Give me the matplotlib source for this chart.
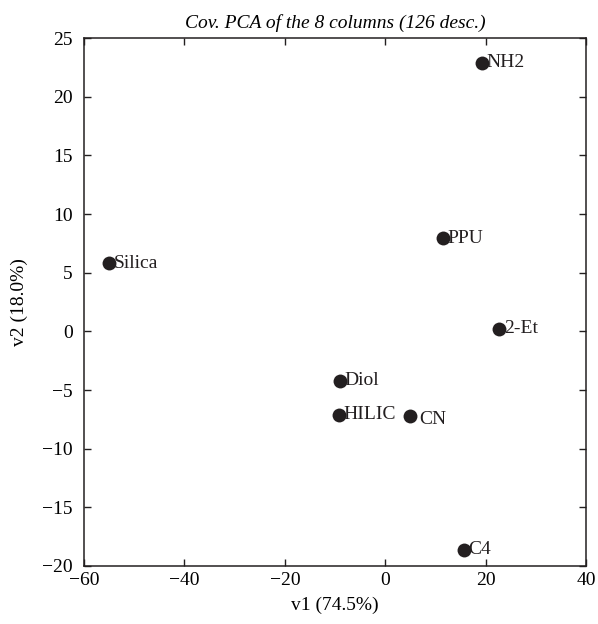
import matplotlib
matplotlib.use("Agg")
import matplotlib.pyplot as plt

names = ["NH2", "PPU", "Silica", "2-Et", "Diol", "HILIC", "CN", "C4"]
v1 = [19.2, 11.5, -55.0, 22.7, -9.0, -9.3, 4.9, 15.6]
v2 = [22.9, 7.95, 5.8, 0.2, -4.2, -7.1, -7.2, -18.6]

plt.rcParams["font.family"] = ["Liberation Serif", "DejaVu Serif"]
plt.rcParams["font.size"] = 14

fig = plt.figure(figsize=(5.98, 6.24), dpi=100)
ax = fig.add_axes([0.1405, 0.093, 0.8395, 0.846])

ax.scatter(v1, v2, s=100, color="#231f20", zorder=3, linewidths=0)
for n, x, y in zip(names, v1, v2):
    dx = 0.9 if n != "CN" else 1.8
    dy = 0.0 if n != "CN" else -0.3
    ax.text(x + dx, y + dy, n, va="center", ha="left", color="#231f20")

ax.set_xlim(-60, 40)
ax.set_ylim(-20, 25)
ax.set_xticks(range(-60, 41, 20))
ax.set_yticks(range(-20, 26, 5))
ax.set_xticklabels([f"\u2212{abs(t)}" if t < 0 else str(t) for t in range(-60, 41, 20)])
ax.set_yticklabels([f"\u2212{abs(t)}" if t < 0 else str(t) for t in range(-20, 26, 5)])
ax.tick_params(direction="in", top=True, right=True, length=5, width=1, color="#231f20")
ax.tick_params(axis="x", pad=4)
ax.tick_params(axis="y", pad=8)
for s in ax.spines.values():
    s.set_linewidth(1.1)
    s.set_color("#231f20")

ax.set_xlabel("v1 (74.5%)", labelpad=6)
ax.set_ylabel("v2 (18.0%)", labelpad=10)
ax.set_title("Cov. PCA of the 8 columns (126 desc.)", style="italic", fontsize=14, pad=7)

fig.savefig("out.png", dpi=100)
